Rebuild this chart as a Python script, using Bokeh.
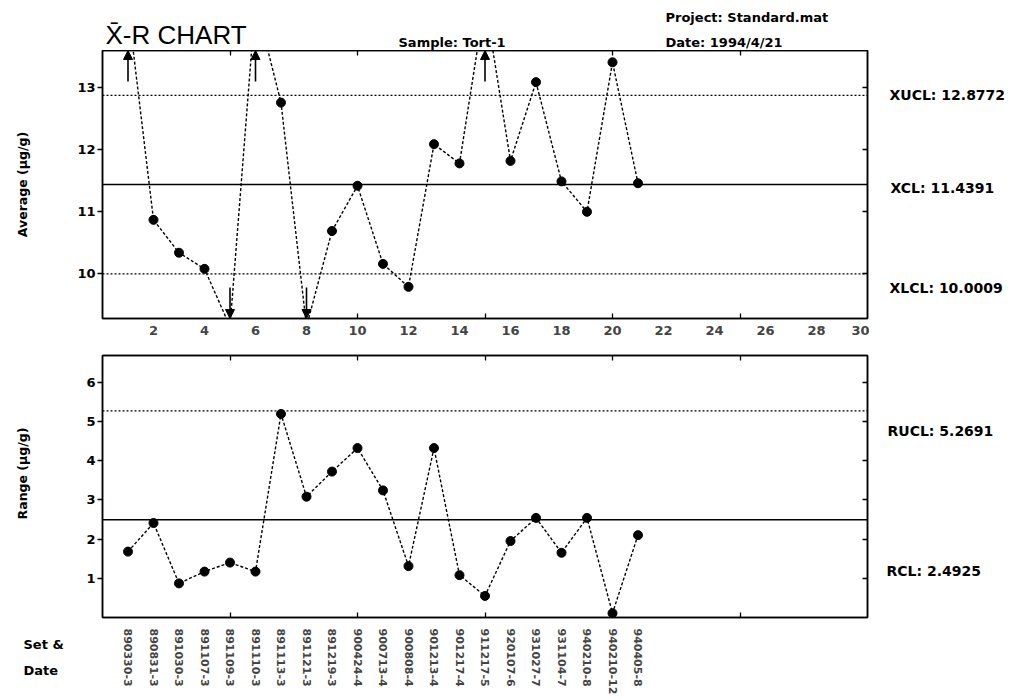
import numpy as np
from bokeh.plotting import figure
from bokeh.layouts import column, row
from bokeh.models import (Span, Label, Arrow, NormalHead, LinearAxis, FixedTicker,
                          Range1d, ColumnDataSource, Title)
from bokeh.embed import file_html
from bokeh.resources import INLINE

# ---------------- data ----------------
samples = list(range(1, 22))
set_dates = ["890330-3", "890831-3", "891030-3", "891107-3", "891109-3", "891110-3",
             "891113-3", "891121-3", "891219-3", "900424-4", "900713-4", "900808-4",
             "901213-4", "901217-4", "911217-5", "920107-6", "931027-7", "931104-7",
             "940210-8", "940210-12", "940405-8"]
averages = [14.3, 10.87, 10.34, 10.08, 9.15, 14.4, 12.76, 9.15, 10.69, 11.42, 10.16,
            9.79, 12.09, 11.78, 14.4, 11.82, 13.09, 11.49, 11.00, 13.41, 11.46]
ranges = [1.68, 2.41, 0.87, 1.17, 1.40, 1.17, 5.19, 3.08, 3.72, 4.32, 3.24,
          1.31, 4.32, 1.08, 0.55, 1.95, 2.54, 1.65, 2.54, 0.11, 2.10]
XUCL, XCL, XLCL = 12.8772, 11.4391, 10.0009
RUCL, RCL = 5.2691, 2.4925
x_tick_labels = list(range(2, 31, 2))
x_grid_ticks = [5, 10, 15, 20, 25]
avg_ticks = [10, 11, 12, 13]
range_ticks = [1, 2, 3, 4, 5, 6]

X_MIN, X_MAX = 0, 30
AVG_MIN, AVG_MAX = 9.28, 13.6
R_MIN, R_MAX = 0, 6.68

FONT = "DejaVu Sans"
W_LEFT, W_MAIN, W_RIGHT = 72, 797, 142
H_HEAD, H1, H2 = 50, 294, 353
B2_TOP, B2_BOTTOM = 11, 353 - 11 - 263


def blank(width, height, x_range, y_range, top=0, bottom=0):
    f = figure(width=width, height=height, output_backend="svg", toolbar_location=None,
               x_range=x_range, y_range=y_range, x_axis_location=None,
               y_axis_location=None, min_border_left=0, min_border_right=0,
               min_border_top=top, min_border_bottom=bottom)
    f.outline_line_color = None
    f.xgrid.visible = False
    f.ygrid.visible = False
    return f


def txt(f, x, y, text, size="13px", font=FONT, style="bold", **kw):
    f.add_layout(Label(x=x, y=y, text=text, text_font=font, text_font_style=style,
                       text_font_size=size, text_color="black", **kw))


def main_fig(height, y_range, top, bottom):
    p = figure(width=W_MAIN, height=height, output_backend="svg", toolbar_location=None,
               x_range=Range1d(X_MIN, X_MAX), y_range=y_range,
               x_axis_location=None, y_axis_location=None,
               min_border_left=30, min_border_right=2, min_border_top=top,
               min_border_bottom=bottom)
    p.outline_line_color = "black"
    p.outline_line_width = 1.5
    p.xgrid.visible = False
    p.ygrid.visible = False
    return p


def edge_axis(minor):
    return LinearAxis(ticker=FixedTicker(ticks=[], minor_ticks=minor),
                      minor_tick_in=5, minor_tick_out=0, major_tick_in=0, major_tick_out=0,
                      major_label_standoff=0, axis_label_standoff=0,
                      axis_line_width=1.5, minor_tick_line_width=1.3)


def left_axis(ticks):
    return LinearAxis(ticker=FixedTicker(ticks=ticks), major_tick_out=5, major_tick_in=0,
                      minor_tick_out=0, minor_tick_in=0, major_label_standoff=2,
                      major_label_text_font=FONT, major_label_text_font_style="bold",
                      major_label_text_font_size="13px", major_label_text_color="black",
                      axis_line_width=1.5, major_tick_line_width=1.3)


TOTAL_W = W_LEFT + W_MAIN + W_RIGHT

# ---------------- header ----------------
head = blank(TOTAL_W, H_HEAD, Range1d(0, TOTAL_W), Range1d(H_HEAD, 0))
txt(head, 105, 34, "X\u0304-R CHART", size="26px", font="Liberation Sans", style="normal",
    text_baseline="middle")
txt(head, 398, 42, "Sample: Tort-1", text_baseline="middle")
txt(head, 665, 17, "Project: Standard.mat", text_baseline="middle")
txt(head, 665, 42, "Date: 1994/4/21", text_baseline="middle")

# ---------------- top: averages ----------------
avg_range = Range1d(AVG_MIN, AVG_MAX)
p1 = main_fig(H1, avg_range, 0, 26)
p1.add_layout(edge_axis(x_grid_ticks), "above")
p1.add_layout(edge_axis(avg_ticks), "right")
p1.add_layout(left_axis(avg_ticks), "left")
p1.add_layout(LinearAxis(ticker=FixedTicker(ticks=x_tick_labels, minor_ticks=x_grid_ticks),
                         major_tick_in=0, major_tick_out=0, minor_tick_in=5,
                         minor_tick_out=0, minor_tick_line_width=1.3,
                         major_label_standoff=7, major_label_text_font=FONT,
                         major_label_text_font_style="bold",
                         major_label_text_font_size="13px", axis_line_width=1.5), "below")

p1.add_layout(Span(location=XUCL, dimension="width", line_color="black",
                   line_dash="2 2", line_width=1.3))
p1.add_layout(Span(location=XCL, dimension="width", line_color="black", line_width=1.6))
p1.add_layout(Span(location=XLCL, dimension="width", line_color="black",
                   line_dash="2 2", line_width=1.3))

avg_arr = np.array(averages)
xs = np.array(samples)
src1 = ColumnDataSource(dict(x=samples, y=averages))
p1.line("x", "y", source=src1, line_color="black", line_dash="3 2", line_width=1.4)
inside = (avg_arr <= AVG_MAX) & (avg_arr >= AVG_MIN)
p1.scatter(xs[inside], avg_arr[inside], size=9, color="black")

hi = avg_arr > AVG_MAX
lo = avg_arr < AVG_MIN
ARROW_LEN = 0.5
up_src = ColumnDataSource(dict(x0=xs[hi], y0=np.full(hi.sum(), AVG_MAX - ARROW_LEN),
                               x1=xs[hi], y1=np.full(hi.sum(), AVG_MAX)))
dn_src = ColumnDataSource(dict(x0=xs[lo], y0=np.full(lo.sum(), AVG_MIN + ARROW_LEN),
                               x1=xs[lo], y1=np.full(lo.sum(), AVG_MIN)))
for s in (up_src, dn_src):
    p1.add_layout(Arrow(end=NormalHead(size=9, fill_color="black", line_color="black"),
                        x_start="x0", y_start="y0", x_end="x1", y_end="y1", source=s,
                        line_color="black", line_width=1.6))

left1 = blank(W_LEFT, H1, Range1d(0, W_LEFT), avg_range, bottom=26)
txt(left1, 22, (AVG_MIN + AVG_MAX) / 2, "Average (\u00b5g/g)", size="12.5px",
    angle=np.pi / 2, text_align="center", text_baseline="middle")

right1 = blank(W_RIGHT, H1, Range1d(0, W_RIGHT), avg_range, bottom=26)
for val, name, dy, dx in [(XUCL, "XUCL", 0, 20), (XCL, "XCL", -3, 21), (XLCL, "XLCL", -14, 20)]:
    txt(right1, dx, val, f"{name}: {val:.4f}", size="14px", y_offset=dy,
        text_baseline="middle")

# ---------------- bottom: ranges ----------------
rng_range = Range1d(R_MIN, R_MAX)
p2 = main_fig(H2, rng_range, B2_TOP, B2_BOTTOM)
p2.add_layout(edge_axis(x_grid_ticks), "above")
p2.add_layout(edge_axis(range_ticks), "right")
p2.add_layout(left_axis(range_ticks), "left")
p2.add_layout(LinearAxis(ticker=FixedTicker(ticks=samples, minor_ticks=x_grid_ticks),
                         major_label_overrides={s: d for s, d in zip(samples, set_dates)},
                         major_label_orientation="vertical",
                         major_tick_in=0, major_tick_out=0, minor_tick_in=5,
                         minor_tick_out=0, minor_tick_line_width=1.3,
                         major_label_standoff=11, major_label_text_font=FONT,
                         major_label_text_font_style="bold",
                         major_label_text_font_size="11px", axis_line_width=1.5), "below")

p2.add_layout(Span(location=RUCL, dimension="width", line_color="black",
                   line_dash="2 2", line_width=1.3))
p2.add_layout(Span(location=RCL, dimension="width", line_color="black", line_width=1.6))
src2 = ColumnDataSource(dict(x=samples, y=ranges))
p2.line("x", "y", source=src2, line_color="black", line_dash="3 2", line_width=1.4)
p2.scatter("x", "y", source=src2, size=9, color="black")

left2 = blank(W_LEFT, H2, Range1d(0, W_LEFT), rng_range, top=B2_TOP, bottom=B2_BOTTOM)
txt(left2, 22, (R_MIN + R_MAX) / 2, "Range (\u00b5g/g)", size="12.5px", angle=np.pi / 2,
    y_offset=13, text_align="center", text_baseline="middle")
left2.add_layout(Title(text="Set &\nDate", align="left", offset=23, standoff=34,
                       text_font=FONT, text_font_style="bold", text_font_size="13px",
                       text_line_height=1.79, text_color="black"), "below")

right2 = blank(W_RIGHT, H2, Range1d(0, W_RIGHT), rng_range, top=B2_TOP, bottom=B2_BOTTOM)
for val, name, dy, dx in [(RUCL, "RUCL", -20, 18), (RCL, "RCL", -51, 17)]:
    txt(right2, dx, val, f"{name}: {val:.4f}", size="14px", y_offset=dy,
        text_baseline="middle")

layout = column(head, row(left1, p1, right1, spacing=0), row(left2, p2, right2, spacing=0),
                spacing=0)
open("out.html", "w").write(file_html(layout, INLINE))
